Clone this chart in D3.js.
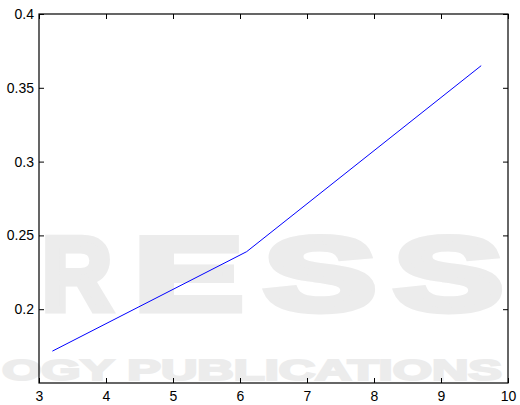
<!DOCTYPE html>
<html>
<head>
<meta charset="utf-8">
<script src="https://cdn.jsdelivr.net/npm/d3@7"></script>
<style>
  body { margin: 0; background: #fff; }
  text { font-family: 'Liberation Sans', Arial, sans-serif; }
</style>
</head>
<body>
<div id="chart"></div>
<script>
const xValues = [3.2, 6.1, 9.6]
const yValues = [0.1716, 0.239, 0.365]
const xTicks = [3, 4, 5, 6, 7, 8, 9, 10]
const yTicks = [0.2, 0.25, 0.3, 0.35, 0.4]

const margin = { top: 14, left: 39, right: 12, bottom: 22 }
const width = 520 - margin.left - margin.right
const height = 405 - margin.top - margin.bottom

const root = d3
  .select('#chart')
  .append('svg')
  .attr('width', 520)
  .attr('height', 405)

// faint publisher watermark behind the plot
const wm = root
  .append('g')
  .attr('fill', '#ececec')
  .attr('stroke', '#ececec')
  .style('font-family', "'DejaVu Sans', sans-serif")
  .attr('font-weight', 'bold')
const letters = [
  { t: 'R', x0: 42, x1: 112 },
  { t: 'E', x0: 134, x1: 243 },
  { t: 'S', x0: 264, x1: 376 },
  { t: 'S', x0: 394, x1: 503 }
]
wm.selectAll('.big')
  .data(letters)
  .enter()
  .append('text')
  .text(d => d.t)
  .attr('x', d => d.x0)
  .attr('y', 310)
  .attr('font-size', 104)
  .attr('stroke-width', 7)
  .attr('textLength', d => d.x1 - d.x0)
  .attr('lengthAdjust', 'spacingAndGlyphs')
wm.append('text')
  .text('OGY PUBLICATIONS')
  .attr('x', 2)
  .attr('y', 380)
  .attr('font-size', 29)
  .attr('stroke-width', 2)
  .attr('textLength', 500)
  .attr('lengthAdjust', 'spacingAndGlyphs')

const svg = root
  .append('g')
  .attr('transform', 'translate(' + margin.left + ',' + margin.top + ')')

const xPositionScale = d3.scaleLinear().domain([3, 10]).range([0, width])
const yPositionScale = d3.scaleLinear().domain([0.15, 0.4]).range([height, 0])

const line = d3
  .line()
  .x(d => xPositionScale(d[0]))
  .y(d => yPositionScale(d[1]))

svg
  .append('path')
  .datum(d3.zip(xValues, yValues))
  .attr('d', line)
  .attr('fill', 'none')
  .attr('stroke', '#0000ff')
  .attr('stroke-width', 1)

// axes with inward ticks, mirrored on top / right
const tickLen = 5
const xAxis = d3.axisBottom(xPositionScale).tickValues(xTicks).tickFormat(d3.format('d')).tickSizeInner(-tickLen).tickSizeOuter(0).tickPadding(8)
const yAxis = d3.axisLeft(yPositionScale).tickValues(yTicks).tickFormat(d => String(+d.toFixed(2))).tickSizeInner(-tickLen).tickSizeOuter(0).tickPadding(5)

const gx = svg.append('g').attr('transform', 'translate(0,' + height + ')').call(xAxis)
const gy = svg.append('g').call(yAxis)
svg.append('g').call(d3.axisTop(xPositionScale).tickValues(xTicks).tickSizeInner(-tickLen).tickSizeOuter(0).tickFormat(''))
svg.append('g').attr('transform', 'translate(' + width + ',0)').call(d3.axisRight(yPositionScale).tickValues(yTicks).tickSizeInner(-tickLen).tickSizeOuter(0).tickFormat(''))

svg.selectAll('.domain').remove()
svg.selectAll('.tick line').attr('stroke', '#000')
svg.selectAll('.tick text').attr('font-size', 14).attr('fill', '#000').style('font-family', "'Liberation Sans', Arial, sans-serif")

svg
  .append('rect')
  .attr('width', width)
  .attr('height', height)
  .attr('fill', 'none')
  .attr('stroke', '#000')
  .attr('stroke-width', 1.2)
</script>
</body>
</html>
